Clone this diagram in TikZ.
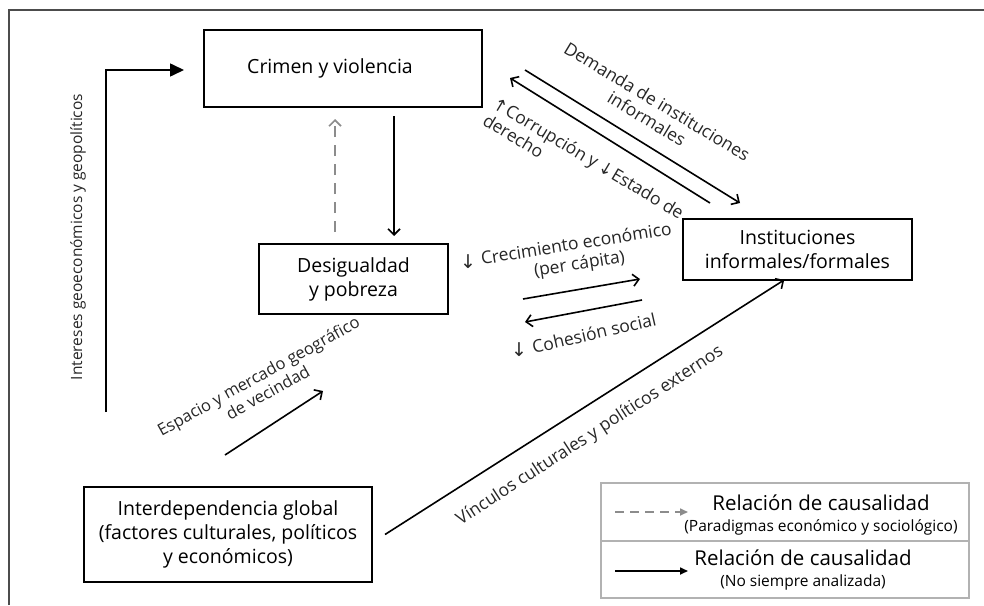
\documentclass[tikz,border=0pt]{standalone}
\usepackage{fontspec}
\setmainfont{Open Sans}
\newfontfamily\flechas{DejaVu Sans}
\usetikzlibrary{positioning,arrows.meta}

\begin{document}
\begin{tikzpicture}[x=1pt,y=-1pt,
    caja/.style={draw, line width=2pt, align=center, inner sep=0pt, font=\fontsize{19.5}{24}\selectfont},
    flecha/.style={line width=1.6pt, -{Straight Barb[length=6pt,width=12pt,line width=1.6pt]}},
    discont/.style={line width=1.6pt, black!45, dash pattern=on 11pt off 8pt, -{Straight Barb[length=6pt,width=12pt,line width=1.6pt]}},
    etiqueta/.style={font=\fontsize{17.5}{20}\selectfont, align=center, inner sep=0pt, text=black!85},
    flechita/.style={inner sep=0pt, font=\flechas\fontsize{19}{20}\selectfont, text=black!85}]
    \useasboundingbox (0,0) rectangle (984,605);

    % Marco exterior
    \draw[line width=1.3pt, black!70] (9,605) -- (9,10) -- (984,10);

    % Definición de los nodos
    \node[caja, minimum width=278pt, minimum height=77pt] (crimen) at (343,68.5) {Crimen y violencia\hspace*{26pt}};
    \node[caja, minimum width=189pt, minimum height=70pt] (desig) at (353.5,279) {Desigualdad\\y pobreza};
    \node[caja, minimum width=229pt, minimum height=61pt] (inst) at (797.5,249.5) {Instituciones\\informales/formales};
    \node[caja, minimum width=288pt, minimum height=95pt] (inter) at (228,534.5) {Interdependencia global\\(factores culturales, políticos\\y económicos)};

    % Puntos libres de las flechas
    \coordinate (geoA) at (106,412);
    \coordinate (geoB) at (184,70);
    \coordinate (demA) at (525,70);
    \coordinate (demB) at (740,203);
    \coordinate (corA) at (710,203);
    \coordinate (corB) at (510,78);
    \coordinate (creA) at (523,299);
    \coordinate (creB) at (640,279);
    \coordinate (cohA) at (642,300);
    \coordinate (cohB) at (525,322);
    \coordinate (espA) at (225,455);
    \coordinate (espB) at (323,391);

    % Definición de las aristas
    \draw[line width=1.6pt, -{Triangle[length=14pt,width=13pt]}] (geoA) |- (geoB);
    \draw[flecha, shorten <=8pt, shorten >=7pt] ([xshift=51pt]crimen.south) -- ([xshift=40.5pt]desig.north);
    \draw[discont, shorten <=11pt, shorten >=11pt] ([xshift=-18.5pt]desig.north) -- ([xshift=-8pt]crimen.south);
    \draw[flecha] (demA) -- (demB);
    \draw[flecha] (corA) -- (corB);
    \draw[flecha] (creA) -- (creB);
    \draw[flecha] (cohA) -- (cohB);
    \draw[flecha] (espA) -- (espB);
    \draw[flecha, shorten >=-2pt] ([xshift=12pt]inter.east) -- ([xshift=-15pt]inst.south);

    % Etiquetas
    \node[etiqueta, rotate=90, font=\fontsize{15.5}{19}\selectfont] (lgeo) at (78,237) {Intereses geoeconómicos y geopolíticos};
    \node[etiqueta, rotate=-31] (ldem) at (652,110) {Demanda de instituciones\\informales};
    \node[etiqueta, rotate=-31, anchor=west, align=left] (lcor) at (490,110) {{\flechas\fontsize{17}{18}\selectfont↑}Corrupción y {\flechas\fontsize{17}{18}\selectfont↓}Estado de\\derecho};
    \node[etiqueta, rotate=9] (lcre) at (578,255) {Crecimiento económico\\(per cápita)};
    \node[flechita] (fcre) at (468,262) {↓};
    \node[etiqueta, rotate=13] (lcoh) at (594,333) {Cohesión social};
    \node[flechita] (fcoh) at (519,350) {↓};
    \node[etiqueta, rotate=29, font=\fontsize{16.5}{19}\selectfont] (lesp) at (263,384) {Espacio y mercado geográfico\\de vecindad};
    \node[etiqueta, rotate=33] (lvin) at (590,436) {Vínculos culturales y políticos externos};

    % Leyenda
    \draw[line width=2pt, black!30] (601,483) rectangle (969,598);
    \draw[line width=2pt, black!30] (601,541) -- (969,541);
    \coordinate (leyA) at (615,512);
    \coordinate (leyB) at (688,512);
    \coordinate (leyC) at (615,571);
    \coordinate (leyD) at (688,571);
    \draw[line width=1.6pt, black!45, dash pattern=on 9pt off 6pt, -{Triangle[length=8pt,width=7pt]}] (leyA) -- (leyB);
    \draw[line width=1.6pt, -{Triangle[length=8pt,width=7pt]}] (leyC) -- (leyD);
    \node[align=center, inner sep=0pt, font=\fontsize{20.5}{21}\selectfont] (ley1) at (821,515) {Relación de causalidad\\{\fontsize{15.5}{17}\selectfont(Paradigmas económico y sociológico)}};
    \node[align=center, inner sep=0pt, font=\fontsize{20.5}{21}\selectfont] (ley2) at (803,570) {Relación de causalidad\\{\fontsize{15.5}{17}\selectfont(No siempre analizada)}};
\end{tikzpicture}
\end{document}
